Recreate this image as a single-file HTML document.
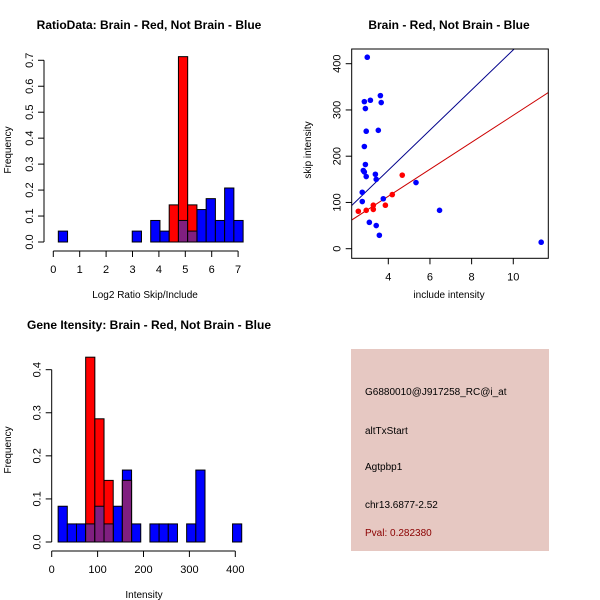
<!DOCTYPE html>
<html><head><meta charset="utf-8"><style>
body{margin:0;background:#fff}
svg{display:block;font-family:"Liberation Sans",sans-serif}
</style></head><body>
<svg id="c" width="600" height="600" viewBox="0 0 600 600"></svg>
<script>
// Panel 1: ratio histogram
const ratioBinStart = 0.19, ratioBinWidth = 0.35;
const ratioBlueBins = [0, 8, 10, 11, 13, 14, 15, 16, 17, 18, 19];
const ratioBlueVals = [0.042, 0.042, 0.083, 0.042, 0.083, 0.042, 0.125, 0.167, 0.083, 0.208, 0.083];
const ratioRedBins = [12, 13, 14];
const ratioRedVals = [0.143, 0.714, 0.143];
const ratioXTicks = [0,1,2,3,4,5,6,7];
const ratioYTicks = [0,0.1,0.2,0.3,0.4,0.5,0.6,0.7];
// Panel 2: scatter
const blueX = [2.99,2.85,3.14,3.62,3.66,2.90,2.94,3.52,2.85,2.90,2.80,2.85,2.94,3.38,3.42,2.75,2.75,3.76,5.33,3.09,3.42,3.57,6.46,11.34];
const blueY = [414,318,321,331,316,303,254,256,221,182,169,166,156,161,150,122,102,108,143,57,50,29,83,14];
const redX = [2.56,2.94,3.28,3.28,3.86,4.19,4.67];
const redY = [81,83,94,85,94,117,159];
const blueFit = [43.4, -4];
const redFit = [29.2, -3.5];
const scatXTicks = [4,6,8,10];
const scatYTicks = [0,100,200,300,400];
// Panel 3: intensity histogram
const intBinStart = 14, intBinWidth = 20;
const intBlueVals = [0.083,0.042,0.042,0.042,0.083,0.042,0.083,0.167,0.042,0,0.042,0.042,0.042,0,0.042,0.167,0,0,0,0.042];
const intRedBins = [3,4,5,7];
const intRedVals = [0.429,0.286,0.143,0.143];
const intXTicks = [0,100,200,300,400];
const intYTicks = [0,0.1,0.2,0.3,0.4];

const svg = document.getElementById('c');
const NS='http://www.w3.org/2000/svg';
function mk(tag, attrs, parent){const e=document.createElementNS(NS,tag);for(const k in attrs)e.setAttribute(k,attrs[k]);(parent||svg).appendChild(e);return e;}
function txt(s, attrs, parent){const e=mk('text',attrs,parent);e.textContent=s;return e;}
const PURPLE='#801f80';

function histogram(name, sx, sy, blueBins, blueVals, redBins, redVals, start, w, xt, yt, x0, y0){
  const g=mk('g',{});
  
  
  const blueMap={}; blueBins.forEach((b,i)=>blueMap[b]=blueVals[i]);
  blueBins.forEach((b,i)=>{ const v=blueVals[i]; if(v<=0)return;
    const r=mk('rect',{x:sx(start+b*w),y:sy(v),width:sx(start+(b+1)*w)-sx(start+b*w),height:sy(0)-sy(v),fill:'#0000ff',stroke:'#000','stroke-width':1},g);
    
    });
  redBins.forEach((b,i)=>{ const v=redVals[i];
    const r=mk('rect',{x:sx(start+b*w),y:sy(v),width:sx(start+(b+1)*w)-sx(start+b*w),height:sy(0)-sy(v),fill:'#ff0000',stroke:'#000','stroke-width':1},g);
    
    
    const bv=blueMap[b]||0; if(bv>0){ const m=Math.min(bv,v);
      const p=mk('rect',{x:sx(start+b*w),y:sy(m),width:sx(start+(b+1)*w)-sx(start+b*w),height:sy(0)-sy(m),fill:PURPLE,stroke:'#000','stroke-width':1},g);
      
      }
  });
  const xa=mk('g',{},g);
  
  
  mk('line',{x1:sx(xt[0]),x2:sx(xt[xt.length-1]),y1:y0,y2:y0,stroke:'#000'},xa);
  xt.forEach(t=>{mk('line',{x1:sx(t),x2:sx(t),y1:y0,y2:y0+6,stroke:'#000'},xa);
    txt(String(t),{x:sx(t),y:y0+22,'font-size':11,'text-anchor':'middle'},xa);});
  const ya=mk('g',{},g);
  
  
  mk('line',{x1:x0,x2:x0,y1:sy(yt[0]),y2:sy(yt[yt.length-1]),stroke:'#000'},ya);
  yt.forEach(t=>{mk('line',{x1:x0,x2:x0-6,y1:sy(t),y2:sy(t),stroke:'#000'},ya);
    txt(t.toFixed(1),{x:0,y:0,'font-size':11,'text-anchor':'middle',transform:`translate(${x0-11},${sy(t)}) rotate(-90)`},ya);});
}

// Panel 1
{
  const sx=v=>53.3+v*26.4, sy=v=>242-v*259.6;
  histogram('ratio-histogram',sx,sy,ratioBlueBins,ratioBlueVals,ratioRedBins,ratioRedVals,ratioBinStart,ratioBinWidth,ratioXTicks,ratioYTicks,44,251);
  const t=txt('RatioData: Brain - Red, Not Brain - Blue',{x:149,y:29,'font-size':12,'font-weight':'bold','text-anchor':'middle'});
  
  
  const xl=txt('Log2 Ratio Skip/Include',{x:145,y:298,'font-size':10,'text-anchor':'middle'});
  
  
  const yl=txt('Frequency',{x:0,y:0,'font-size':10,'text-anchor':'middle',transform:'translate(11,150) rotate(-90)'});
  
  
}
// Panel 3
{
  const sx=v=>51.7+v*0.459, sy=v=>542-v*430.8;
  histogram('intensity-histogram',sx,sy,intBlueVals.map((v,i)=>i),intBlueVals,intRedBins,intRedVals,intBinStart,intBinWidth,intXTicks,intYTicks,51.7,551);
  const t=txt('Gene Itensity: Brain - Red, Not Brain - Blue',{x:149,y:329,'font-size':12,'font-weight':'bold','text-anchor':'middle'});
  
  
  const xl=txt('Intensity',{x:144,y:598,'font-size':10,'text-anchor':'middle'});
  
  
  const yl=txt('Frequency',{x:0,y:0,'font-size':10,'text-anchor':'middle',transform:'translate(11,450) rotate(-90)'});
  
  
}
// Panel 2 scatter
{
  const sx=v=>388.3+(v-4)*20.83, sy=v=>248.7-v*0.4625;
  const L=351.7,R=548.3,T=49,B=258.3;
  const g=mk('g',{});
  
  
  const cp=mk('clipPath',{id:'clp'},g); mk('rect',{x:L,y:T,width:R-L,height:B-T},cp);
  const xmin=(L-388.3)/20.83+4, xmax=(R-388.3)/20.83+4;
  const bl=mk('line',{x1:sx(xmin),y1:sy(blueFit[0]*xmin+blueFit[1]),x2:sx(xmax),y2:sy(blueFit[0]*xmax+blueFit[1]),stroke:'#00008b','clip-path':'url(#clp)'},g);
  
  
  const rl=mk('line',{x1:sx(xmin),y1:sy(redFit[0]*xmin+redFit[1]),x2:sx(xmax),y2:sy(redFit[0]*xmax+redFit[1]),stroke:'#cc0000','clip-path':'url(#clp)'},g);
  
  
  blueX.forEach((x,i)=>{const c=mk('circle',{cx:sx(x),cy:sy(blueY[i]),r:2.8,fill:'#0000ff'},g);
    
    });
  redX.forEach((x,i)=>{const c=mk('circle',{cx:sx(x),cy:sy(redY[i]),r:2.8,fill:'#ff0000'},g);
    
    });
  mk('rect',{x:L,y:T,width:R-L,height:B-T,fill:'none',stroke:'#000'},g);
  scatXTicks.forEach(t=>{mk('line',{x1:sx(t),x2:sx(t),y1:B,y2:B+6,stroke:'#000'},g);
    txt(String(t),{x:sx(t),y:B+22,'font-size':11,'text-anchor':'middle'},g);});
  scatYTicks.forEach(t=>{mk('line',{x1:L,x2:L-6,y1:sy(t),y2:sy(t),stroke:'#000'},g);
    txt(String(t),{x:0,y:0,'font-size':11,'text-anchor':'middle',transform:`translate(${L-11},${sy(t)}) rotate(-90)`},g);});
  const t=txt('Brain - Red, Not Brain - Blue',{x:449,y:29,'font-size':12,'font-weight':'bold','text-anchor':'middle'});
  
  
  const xl=txt('include intensity',{x:449,y:298,'font-size':10,'text-anchor':'middle'});
  
  
  const yl=txt('skip intensity',{x:0,y:0,'font-size':10,'text-anchor':'middle',transform:'translate(311,150) rotate(-90)'});
  
  
}
// Info panel
{
  const g=mk('g',{});
  
  
  mk('rect',{x:351,y:349,width:198,height:202,fill:'#e6c8c2'},g);
  const lines=[['G6880010@J917258_RC@i_at',395,'#000','probe-id'],['altTxStart',434,'#000','event-type'],['Agtpbp1',470,'#000','gene-name'],['chr13.6877-2.52',508,'#000','location'],['Pval: 0.282380',536,'#8b0000','p-value']];
  lines.forEach(l=>{const e=txt(l[0],{x:365,y:l[1],'font-size':10,fill:l[2]},g);
    
    });
}
</script>
</body></html>
